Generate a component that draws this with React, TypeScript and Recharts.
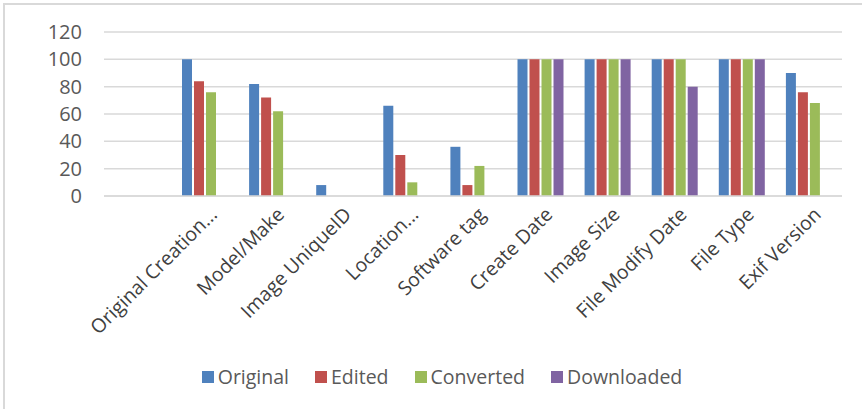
import React from "react";
import { BarChart, Bar, XAxis, YAxis, CartesianGrid } from "recharts";

const categories = [
  "Original Creation...",
  "Model/Make",
  "Image UniqueID",
  "Location...",
  "Software tag",
  "Create Date",
  "Image Size",
  "File Modify Date",
  "File Type",
  "Exif Version",
];
const original = [100, 82, 8, 66, 36, 100, 100, 100, 100, 90];
const edited = [84, 72, 0, 30, 8, 100, 100, 100, 100, 76];
const converted = [76, 62, 0, 10, 22, 100, 100, 100, 100, 68];
const downloaded = [0, 0, 0, 0, 0, 100, 100, 80, 100, 0];
const yTicks = [0, 20, 40, 60, 80, 100, 120];

const seriesNames = ["Original", "Edited", "Converted", "Downloaded"];
const seriesColors = ["#4F81BD", "#C0504D", "#9BBB59", "#8064A2"];

const data = categories.map((c, i) => ({
  name: c,
  Original: original[i],
  Edited: edited[i],
  Converted: converted[i],
  Downloaded: downloaded[i],
}));

const FONT = "'Open Sans', 'Noto Sans', sans-serif";

const CustomLegend = () => (
  <div
    style={{
      position: "absolute",
      left: 0,
      top: 364,
      width: 884,
      display: "flex",
      justifyContent: "center",
      gap: 26,
      fontFamily: FONT,
      fontSize: 19.5,
      lineHeight: "26px",
      color: "#595959",
    }}
  >
    {seriesNames.map((n, i) => (
      <div key={n} style={{ display: "flex", alignItems: "center" }}>
        <span
          style={{
            display: "inline-block",
            width: 12,
            height: 12,
            background: seriesColors[i],
            marginRight: 4,
          }}
        />
        <span>{n}</span>
      </div>
    ))}
  </div>
);

export default function App() {
  return (
    <div
      style={{
        position: "absolute",
        left: 0,
        top: 0,
        width: 862,
        height: 409,
        overflow: "hidden",
        background: "#fff",
      }}
    >
      <div
        style={{
          position: "absolute",
          left: 3,
          top: 3,
          width: 900,
          height: 450,
          border: "2px solid #D9D9D9",
          boxSizing: "border-box",
        }}
      />
      <div style={{ position: "absolute", left: 0, top: 0 }}>
        <BarChart
          width={862}
          height={409}
          data={data}
          margin={{ top: 32, right: 20, bottom: 0, left: 0 }}
          barSize={10}
          barGap={2}
        >
          <CartesianGrid vertical={false} stroke="#D9D9D9" strokeWidth={1.5} />
          <XAxis
            dataKey="name"
            interval={0}
            padding={{ left: 67, right: 0 }}
            height={213}
            axisLine={{ stroke: "#D9D9D9", strokeWidth: 1.5 }}
            tickLine={false}
            angle={-45}
            textAnchor="end"
            tick={{ fontFamily: FONT, fontSize: 19.5, fill: "#404040", dx: 4 }}
            tickMargin={4}
          />
          <YAxis
            width={104}
            domain={[0, 120]}
            ticks={yTicks}
            interval={0}
            axisLine={false}
            tickLine={false}
            tickSize={0}
            tickMargin={22}
            tick={{ fontFamily: FONT, fontSize: 20, fill: "#595959" }}
          />
          {seriesNames.map((n, i) => (
            <Bar
              key={n}
              dataKey={n}
              fill={seriesColors[i]}
              isAnimationActive={false}
            />
          ))}
        </BarChart>
      </div>
      <CustomLegend />
    </div>
  );
}
